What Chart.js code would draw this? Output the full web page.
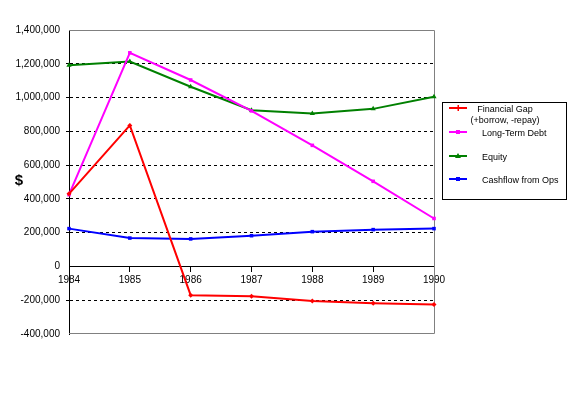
<!DOCTYPE html>
<html>
<head>
<meta charset="utf-8">
<script src="https://cdn.jsdelivr.net/npm/chart.js@4/dist/chart.umd.min.js"></script>
<style>
html,body{margin:0;padding:0;background:#fff;}
#wrap{position:relative;width:576px;height:394px;}
</style>
</head>
<body>
<div id="wrap"><canvas id="c" width="576" height="394"></canvas></div>
<script>
const years = ['1984','1985','1986','1987','1988','1989','1990'];
const financialGap = [430000, 835000, -170000, -177000, -205000, -218000, -225000];
const longTermDebt = [425000, 1265000, 1104000, 921000, 717000, 504000, 284000];
const equity = [1192000, 1213000, 1064000, 925000, 906000, 933000, 1005000];
const cashflowOps = [224000, 168000, 163000, 182000, 206000, 218000, 224000];
const seriesLabels = ['Financial Gap (+borrow, -repay)', 'Long-Term Debt', 'Equity', 'Cashflow from Ops'];
const yTicks = [-400000,-200000,0,200000,400000,600000,800000,1000000,1200000,1400000];

const FONT = '"Liberation Sans", Arial, sans-serif';

function fmt(v){
  const s = Math.abs(v).toString().replace(/\B(?=(\d{3})+(?!\d))/g, ',');
  return (v < 0 ? '-' : '') + s;
}

const frame = {
  id: 'frame',
  beforeDatasetsDraw(chart){
    const {ctx, chartArea:a} = chart;
    const top = Math.round(a.top), bot = Math.round(a.bottom), l = Math.round(a.left), r = Math.round(a.right);
    ctx.save();
    ctx.strokeStyle = '#808080';
    ctx.lineWidth = 1;
    ctx.beginPath();
    ctx.moveTo(l, top + 0.5);
    ctx.lineTo(r + 0.5, top + 0.5);
    ctx.lineTo(r + 0.5, bot - 0.5);
    ctx.lineTo(l, bot - 0.5);
    ctx.stroke();
    ctx.restore();
  },
  afterDraw(chart){
    const {ctx} = chart;
    ctx.save();
    ctx.fillStyle = '#000';
    ctx.font = 'bold 15px ' + FONT;
    ctx.textAlign = 'center';
    ctx.textBaseline = 'middle';
    ctx.fillText('$', 19, 181);
    const bx = 442, by = 102, bw = 124, bh = 97;
    ctx.strokeStyle = '#000';
    ctx.lineWidth = 1;
    ctx.strokeRect(bx + 0.5, by + 0.5, bw, bh);
    const ys = [108, 132, 156, 179];
    ctx.font = '9px ' + FONT;
    chart.data.datasets.forEach((ds, i) => {
      const y = ys[i];
      ctx.strokeStyle = ds.borderColor;
      ctx.lineWidth = 2;
      ctx.beginPath();
      ctx.moveTo(449, y);
      ctx.lineTo(467, y);
      ctx.stroke();
      ctx.fillStyle = ds.borderColor;
      const mx = 458;
      if (ds.pointStyle === 'triangle'){
        ctx.beginPath(); ctx.moveTo(mx, y-3); ctx.lineTo(mx+3, y+2); ctx.lineTo(mx-3, y+2); ctx.closePath(); ctx.fill();
      } else if (ds.pointStyle === 'rectRot'){
        ctx.fillRect(mx-0.5, y-3, 1.5, 6);
      } else {
        ctx.fillRect(mx-2, y-2, 4, 4);
      }
      ctx.fillStyle = '#000';
      ctx.textBaseline = 'middle';
      const parts = ds.label.split(' (');
      if (parts.length > 1){
        ctx.textAlign = 'center';
        ctx.fillText(parts[0], 505, y + 2);
        ctx.fillText('(' + parts[1], 505, y + 13);
      } else {
        ctx.textAlign = 'left';
        ctx.fillText(ds.label, 482, y + 2);
      }
    });
    ctx.restore();
  }
};

new Chart(document.getElementById('c'), {
  type: 'line',
  data: {
    labels: years,
    datasets: [
      {label: seriesLabels[0], data: financialGap, borderColor: '#FF0000', backgroundColor: '#FF0000', pointStyle: 'rectRot', pointRadius: 2.5},
      {label: seriesLabels[1], data: longTermDebt, borderColor: '#FF00FF', backgroundColor: '#FF00FF', pointStyle: 'rect', pointRadius: 2.5},
      {label: seriesLabels[2], data: equity, borderColor: '#008000', backgroundColor: '#008000', pointStyle: 'triangle', pointRadius: 3},
      {label: seriesLabels[3], data: cashflowOps, borderColor: '#0000FF', backgroundColor: '#0000FF', pointStyle: 'rect', pointRadius: 2.5}
    ]
  },
  options: {
    responsive: false,
    animation: false,
    devicePixelRatio: 1,
    layout: {padding: {left: 0, top: 30, right: 142, bottom: 60}},
    elements: {line: {borderWidth: 2, tension: 0}, point: {borderWidth: 0, hoverRadius: 3}},
    plugins: {legend: {display: false}, tooltip: {enabled: false}},
    scales: {
      x: {
        position: {y: 0},
        offset: false,
        grid: {display: true, drawOnChartArea: false, drawTicks: true, tickLength: 5, color: '#000', lineWidth: 1},
        border: {display: true, color: '#000', width: 1},
        ticks: {color: '#000', font: {family: FONT, size: 10}, padding: 3, maxRotation: 0, autoSkip: false}
      },
      y: {
        min: -400000, max: 1400000,
        afterBuildTicks(scale){ scale.ticks = yTicks.map(v => ({value: v})); },
        afterFit(scale){ scale.width = 69; },
        grid: {
          color: (c) => (c.tick && (c.tick.value === 0 || c.tick.value === 1400000 || c.tick.value === -400000)) ? 'rgba(0,0,0,0)' : '#000',
          lineWidth: 1, drawTicks: true, tickLength: 3
        },
        border: {display: true, color: '#000', width: 1, dash: [3, 3]},
        ticks: {color: '#000', font: {family: FONT, size: 10}, padding: 6, callback: (v) => fmt(v)}
      }
    }
  },
  plugins: [frame]
});
</script>
</body>
</html>
